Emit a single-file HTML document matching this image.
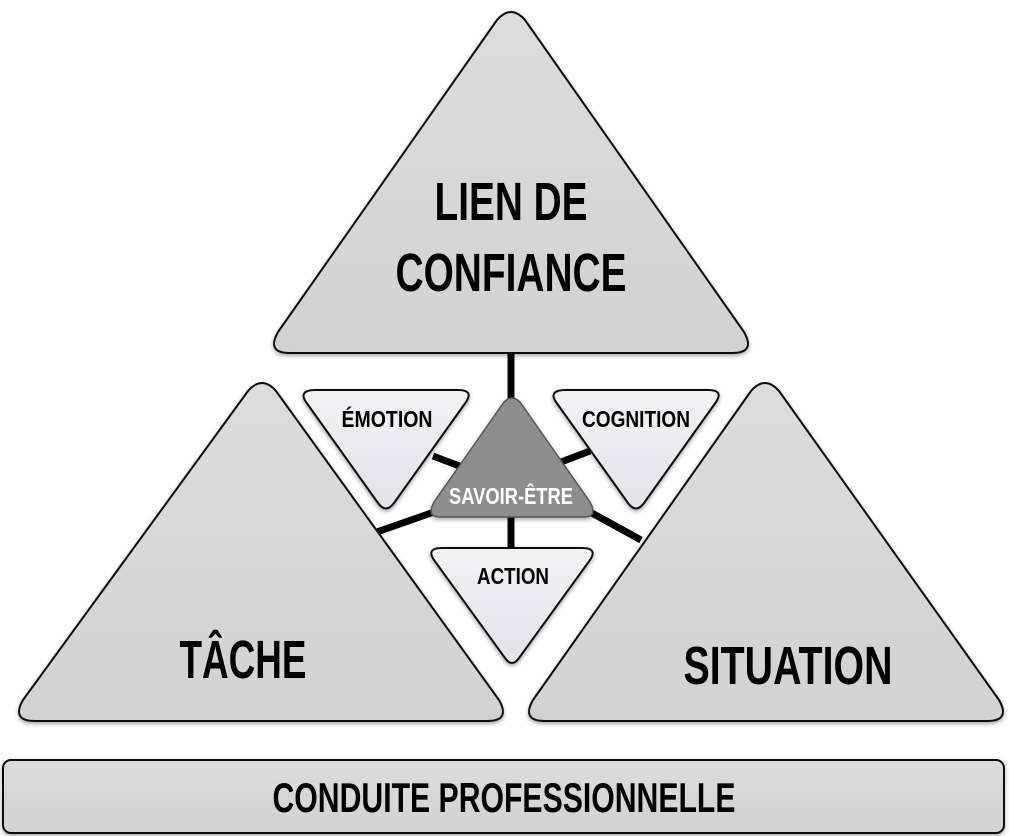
<!DOCTYPE html>
<html><head><meta charset="utf-8"><style>html,body{margin:0;padding:0;background:#fff}svg{display:block}</style></head>
<body>
<svg width="1023" height="836" viewBox="0 0 1023 836" xmlns="http://www.w3.org/2000/svg" font-family="Liberation Sans, sans-serif" font-weight="bold">
<defs>
<linearGradient id="g" x1="0" y1="0" x2="0" y2="1"><stop offset="0" stop-color="#dcdcdc"/><stop offset="1" stop-color="#d2d2d2"/></linearGradient>
<linearGradient id="gi" x1="0" y1="0" x2="0" y2="1"><stop offset="0" stop-color="#f2f2f4"/><stop offset="1" stop-color="#e4e3e8"/></linearGradient>
<filter id="s" x="-10%" y="-10%" width="120%" height="120%"><feDropShadow dx="0" dy="2" stdDeviation="2" flood-opacity="0.35"/></filter>
</defs>
<g stroke="#000" stroke-width="7" stroke-linecap="butt">
<line x1="511" y1="350" x2="511" y2="405"/>
<line x1="433" y1="456" x2="462" y2="467"/>
<line x1="561" y1="462" x2="590" y2="451"/>
<line x1="374" y1="533" x2="434" y2="512"/>
<line x1="590" y1="512" x2="641" y2="540"/>
<line x1="511" y1="515" x2="511" y2="550"/>
</g>
<g stroke="#111" stroke-width="2" stroke-linejoin="round" filter="url(#s)">
<path d="M497,20 Q511,4 525,20 L744,332 Q756,353 732,353 L290,353 Q266,353 278,332 Z" fill="url(#g)"/>
<path d="M248,391 Q262,375 276,391 L499,700 Q511,721 487,721 L35,721 Q11,721 23,700 Z" fill="url(#g)"/>
<path d="M751,391 Q765,375 779,391 L999,700 Q1011,721 987,721 L545,721 Q521,721 533,700 Z" fill="url(#g)"/>
<rect x="3" y="760" width="1001" height="73" rx="8" fill="url(#g)"/>
<path d="M316,390 L458,390 Q474,390 466,402 L394,503 Q386,514 378,503 L306,402 Q298,390 316,390 Z" fill="url(#gi)"/>
<path d="M566,390 L708,390 Q724,390 716,402 L644,503 Q636,514 628,503 L556,402 Q548,390 566,390 Z" fill="url(#gi)"/>
<path d="M442,548 L582,548 Q598,548 590,560 L519,658 Q512,668 505,658 L434,560 Q426,548 442,548 Z" fill="url(#gi)"/>
<path d="M504,402 Q512,394 520,402 L590,502 Q598,517 584,517 L440,517 Q426,517 434,502 Z" fill="#8e8e8e" stroke="#555" stroke-width="1.5"/>
</g>
<g fill="#000" text-anchor="middle">
<text x="511" y="220" font-size="54" textLength="153" lengthAdjust="spacingAndGlyphs">LIEN DE</text>
<text x="511" y="291" font-size="54" textLength="231" lengthAdjust="spacingAndGlyphs">CONFIANCE</text>
<text x="243" y="678" font-size="54" textLength="127" lengthAdjust="spacingAndGlyphs">TÂCHE</text>
<text x="788" y="684" font-size="54" textLength="209" lengthAdjust="spacingAndGlyphs">SITUATION</text>
<text x="504" y="812" font-size="42" textLength="463" lengthAdjust="spacingAndGlyphs">CONDUITE PROFESSIONNELLE</text>
<text x="387" y="427" font-size="23" textLength="91" lengthAdjust="spacingAndGlyphs">ÉMOTION</text>
<text x="636" y="427" font-size="23" textLength="108" lengthAdjust="spacingAndGlyphs">COGNITION</text>
<text x="513" y="584" font-size="23" textLength="72" lengthAdjust="spacingAndGlyphs">ACTION</text>
<text x="511" y="504" font-size="23" fill="#fff" textLength="124" lengthAdjust="spacingAndGlyphs">SAVOIR-ÊTRE</text>
</g>
</svg>
</body></html>
